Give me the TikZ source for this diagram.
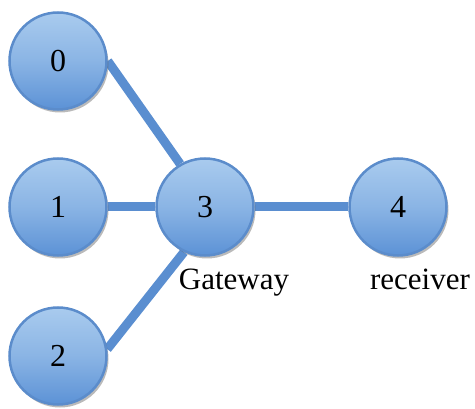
\documentclass[tikz,border=0pt]{standalone}
\usepackage{fontspec}
\setmainfont{Liberation Serif}
\usetikzlibrary{shadows,backgrounds}
\definecolor{topb}{HTML}{A9CBEE}
\definecolor{botb}{HTML}{5C92D6}
\definecolor{edgeb}{HTML}{5B8CCB}
\definecolor{lineb}{HTML}{5A8ED0}
\begin{document}
\begin{tikzpicture}[x=1pt,y=1pt,
  ball/.style={circle,minimum size=97pt,inner sep=0pt,draw=edgeb,line width=2.5pt,
    top color=topb,bottom color=botb,middle color=topb!60!botb,
    drop shadow={shadow xshift=2pt,shadow yshift=-3pt,opacity=0.45,fill=black!60},
    font=\fontsize{32}{32}\selectfont},
  link/.style={draw=lineb,line width=9pt},
  lab/.style={anchor=base,font=\fontsize{31}{31}\selectfont}]
\useasboundingbox (0,0) rectangle (475,408);
\node[ball] (n0) at (58,347) {0};
\node[ball] (n1) at (58,201) {1};
\node[ball] (n2) at (58,52) {2};
\node[ball] (n3) at (205,201) {3};
\node[ball] (n4) at (398,201) {4};
\node[lab] (lg) at (234,118) {Gateway};
\node[lab] (lr) at (420,118) {receiver};
\begin{scope}[on background layer]
\draw[link] (n0.east) -- (n3.120);
\draw[link] (n1.east) -- (n3.west);
\draw[link] (n2.8) -- (n3.245);
\draw[link] (n3.east) -- (n4.west);
\end{scope}
\end{tikzpicture}
\end{document}
